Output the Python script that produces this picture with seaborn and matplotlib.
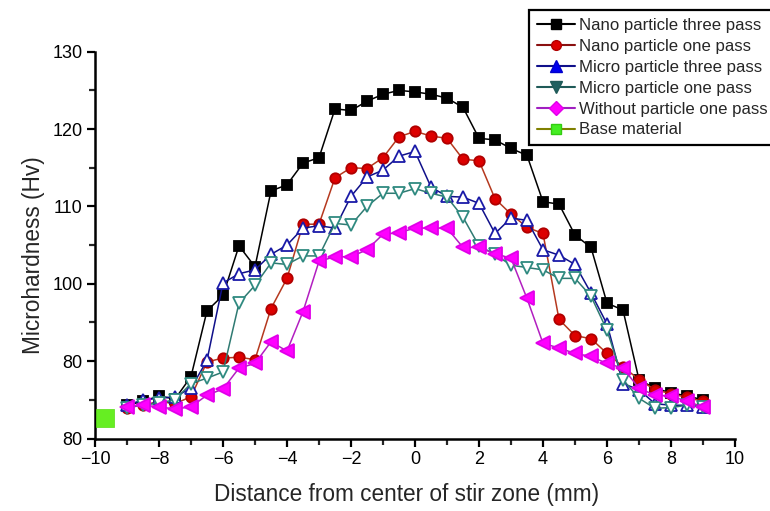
import matplotlib
matplotlib.use("Agg")
import matplotlib.pyplot as plt
from matplotlib.lines import Line2D
import seaborn as sns

# Hardness traverse across the stir zone (mm from centre -> Hv)
distance = [-9.0, -8.5, -8.0, -7.5, -7.0, -6.5, -6.0, -5.5, -5.0, -4.5, -4.0, -3.5,
            -3.0, -2.5, -2.0, -1.5, -1.0, -0.5, 0.0, 0.5, 1.0, 1.5, 2.0, 2.5,
            3.0, 3.5, 4.0, 4.5, 5.0, 5.5, 6.0, 6.5, 7.0, 7.5, 8.0, 8.5, 9.0]

nano_three_pass = [84.3, 84.8, 85.5, 85.1, 88.0, 96.5, 98.5, 104.9, 102.2, 112.0, 112.8, 115.6,
                   116.3, 122.6, 122.4, 123.6, 124.5, 125.0, 124.8, 124.5, 124.0, 122.8, 118.8, 118.6,
                   117.5, 116.6, 110.6, 110.3, 106.3, 104.7, 97.5, 96.6, 87.6, 86.5, 85.9, 85.5, 85.0]

nano_one_pass = [84.0, 84.3, 84.8, 84.5, 85.4, 89.9, 90.4, 90.5, 90.2, 96.8, 100.7, 107.7,
                 107.7, 113.7, 115.0, 114.9, 116.3, 119.0, 119.7, 119.1, 118.8, 116.1, 115.9, 111.0,
                 109.0, 107.3, 106.5, 95.4, 93.3, 92.9, 91.0, 89.3, 87.6, 86.3, 85.8, 85.3, 84.8]

micro_three_pass = [84.3, 85.0, 85.2, 85.4, 86.5, 90.1, 100.1, 101.3, 101.8, 103.8, 105.0, 107.2,
                    107.5, 107.2, 111.3, 113.8, 114.7, 116.5, 117.1, 112.5, 111.3, 111.2, 110.4, 106.5,
                    108.5, 108.2, 104.4, 103.7, 102.5, 98.8, 94.8, 87.1, 86.3, 84.5, 84.3, 84.3, 84.1]

micro_one_pass = [84.0, 84.3, 84.6, 85.0, 87.1, 87.8, 88.6, 97.5, 99.8, 102.7, 102.5, 103.6,
                  103.6, 107.8, 107.6, 110.0, 111.7, 111.7, 112.3, 111.7, 111.2, 108.6, 104.9, 103.8,
                  102.4, 102.1, 101.8, 100.7, 100.7, 98.4, 94.0, 87.6, 85.2, 83.9, 84.0, 84.3, 84.1]

without_particle = [84.1, 84.3, 84.1, 83.8, 84.1, 85.6, 86.4, 89.1, 89.7, 92.5, 91.3, 96.4,
                    102.9, 103.5, 103.5, 104.4, 106.4, 106.6, 107.2, 107.2, 107.2, 104.7, 104.7, 103.9,
                    103.3, 98.1, 92.3, 91.7, 91.0, 90.6, 89.7, 89.1, 86.5, 85.6, 85.5, 84.8, 84.1]

base_distance = [-9.7]
base_hardness = [82.6]

series_labels = ["Nano particle three pass", "Nano particle one pass",
                 "Micro particle three pass", "Micro particle one pass",
                 "Without particle one pass", "Base material"]

x_ticks = [-10, -8, -6, -4, -2, 0, 2, 4, 6, 8, 10]
y_ticks = [80, 90, 100, 110, 120, 130]
y_tick_labels = ["80", "80", "100", "110", "120", "130"]

sns.set_style("ticks")
plt.rcParams["font.family"] = ["Liberation Sans", "DejaVu Sans"]

fig = plt.figure(figsize=(7.7, 5.11), dpi=100)
ax = fig.add_axes([95 / 770, 1 - 438.5 / 511, 640 / 770, (438.5 - 51.7) / 511])

# (values, line colour, marker, face, edge, marker size)
styles = [
    (nano_three_pass, "#000000", "s", "#000000", "#000000", 7),
    (nano_one_pass, "#b5391f", "o", "#dd0000", "#b00000", 7.5),
    (micro_three_pass, "#10108a", "^", "white", "#1a1aa8", 8.5),
    (micro_one_pass, "#2f7a72", "v", "white", "#2f8a80", 8.5),
    (without_particle, "#b21fc0", "<", "#ff00ff", "#e000e8", 9.5),
]
for vals, lc, mk, fc, ec, ms in styles:
    sns.lineplot(x=distance, y=vals, ax=ax, color=lc, linewidth=1.1, marker=mk,
                 markersize=ms, markerfacecolor=fc, markeredgecolor=ec,
                 markeredgewidth=1.3, estimator=None, sort=False, legend=False)

sns.scatterplot(x=base_distance, y=base_hardness, ax=ax, marker="s", s=150,
                color="#66ee22", edgecolor="#55dd11", linewidth=0.5, legend=False, zorder=5)

ax.set_xlim(-10, 10)
ax.set_ylim(80, 130)
ax.set_xticks(x_ticks)
ax.set_xticks(range(-9, 10, 2), minor=True)
ax.set_yticks(y_ticks)
ax.set_yticklabels(y_tick_labels)
ax.set_yticks([85, 95, 105, 115, 125], minor=True)
sns.despine(ax=ax)
for side in ("left", "bottom"):
    ax.spines[side].set_linewidth(1.8)
    ax.spines[side].set_color("black")
ax.tick_params(which="major", direction="out", length=6, width=1.6, labelsize=13,
               colors="black", pad=3)
ax.tick_params(which="minor", direction="out", length=4, width=1.6)

ax.set_xlabel("Distance from center of stir zone (mm)", fontsize=16.3, labelpad=11)
ax.set_ylabel("Microhardness (Hv)", fontsize=16.3, labelpad=5)
ax.xaxis.label.set_x(0.487)
ax.yaxis.label.set_y(0.474)

handles = [
    Line2D([], [], color="#000000", marker="s", markersize=7, markerfacecolor="#000000", lw=1.5),
    Line2D([], [], color="#8a1010", marker="o", markersize=7, markerfacecolor="#dd0000",
           markeredgecolor="#b00000", lw=1.5),
    Line2D([], [], color="#10108a", marker="^", markersize=8, markerfacecolor="#0000ee",
           markeredgecolor="#0000cc", lw=1.5),
    Line2D([], [], color="#1f5a58", marker="v", markersize=8, markerfacecolor="#1f6060",
           markeredgecolor="#1f5a58", lw=1.5),
    Line2D([], [], color="#a020c0", marker="D", markersize=7, markerfacecolor="#ff00ff",
           markeredgecolor="#e000e8", lw=1.5),
    Line2D([], [], color="#808000", marker="s", markersize=7, markerfacecolor="#44ee22",
           markeredgecolor="#33cc11", lw=1.5),
]
leg = fig.legend(handles, series_labels, loc="upper left", bbox_to_anchor=(529 / 770, 1 - 10.5 / 511),
                 fontsize=12.1, frameon=True, fancybox=False, framealpha=1, edgecolor="black",
                 handlelength=2.3, handletextpad=0.2, labelspacing=0.35, borderpad=0.45,
                 borderaxespad=0)
leg.get_frame().set_linewidth(1.6)

fig.savefig("out.png", dpi=100)
